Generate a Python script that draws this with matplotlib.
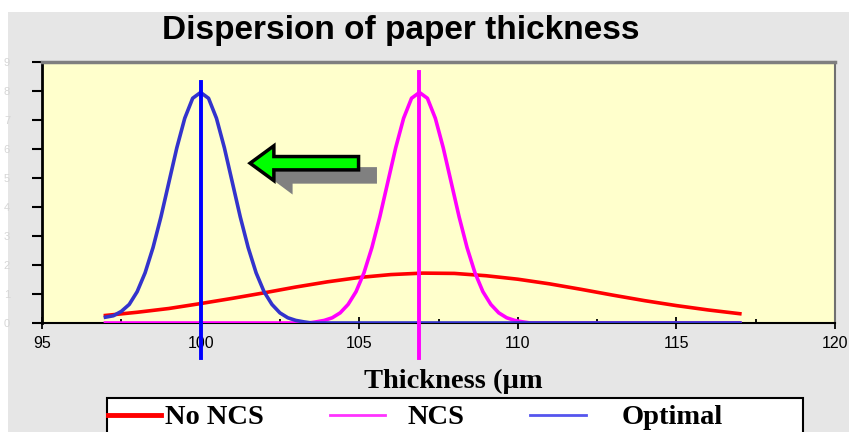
import matplotlib
matplotlib.use("Agg")
import matplotlib.pyplot as plt
from matplotlib.patches import Rectangle, FancyArrow
from matplotlib.lines import Line2D

# values
no_ncs_x = [97, 98, 99, 100, 101, 102, 103, 104, 105, 106, 107,
            108, 109, 110, 111, 112, 113, 114, 115, 116, 117]
no_ncs_y = [0.26, 0.37, 0.50, 0.67, 0.85, 1.04, 1.24, 1.42, 1.57, 1.67, 1.72,
            1.71, 1.63, 1.51, 1.35, 1.16, 0.96, 0.77, 0.60, 0.45, 0.32]

ncs_x = [97, 103.4, 103.65, 103.9, 104.15, 104.4, 104.65, 104.9, 105.15, 105.4, 105.65,
         105.9, 106.15, 106.4, 106.65, 106.9, 107.15, 107.4, 107.65, 107.9, 108.15,
         108.4, 108.65, 108.9, 109.15, 109.4, 109.65, 109.9, 110.15, 110.4, 117]
ncs_y = [0.0, 0.0, 0.04, 0.09, 0.18, 0.35, 0.64, 1.08, 1.73, 2.60, 3.66,
         4.85, 6.04, 7.06, 7.75, 7.95, 7.75, 7.06, 6.04, 4.85, 3.66,
         2.60, 1.73, 1.08, 0.64, 0.35, 0.18, 0.09, 0.04, 0.0, 0.0]

optimal_x = [97, 97.25, 97.5, 97.75, 98, 98.25, 98.5, 98.75, 99, 99.25, 99.5,
             99.75, 100, 100.25, 100.5, 100.75, 101, 101.25, 101.5, 101.75, 102,
             102.25, 102.5, 102.75, 103, 103.25, 103.5, 117]
optimal_y = [0.20, 0.25, 0.40, 0.64, 1.08, 1.73, 2.60, 3.66, 4.85, 6.04, 7.06,
             7.75, 7.95, 7.75, 7.06, 6.04, 4.85, 3.66, 2.60, 1.73, 1.08,
             0.64, 0.35, 0.18, 0.09, 0.04, 0.0, 0.0]

# target lines (x position, top, bottom)
target_x = [100, 106.9]
target_top = [8.3, 8.65]
target_bottom = -1.2

x_ticks = [95, 100, 105, 110, 115, 120]
y_ticks = list(range(10))

sans = "Liberation Sans"
serif = "Liberation Serif"

fig = plt.figure(figsize=(8.49, 4.32), dpi=100, facecolor="white")
fig.add_artist(Rectangle((8 / 849, 0), 1, (432 - 12) / 432, transform=fig.transFigure,
                         facecolor="#e6e6e6", edgecolor="none", zorder=-5))

ax = fig.add_axes([42 / 849, (432 - 323) / 432, 793 / 849, 261 / 432])
ax.set_facecolor("#ffffcc")

ax.plot(no_ncs_x, no_ncs_y, color="#ff0000", lw=2.6, zorder=3)
ax.plot(ncs_x, ncs_y, color="#ff00ff", lw=2.6, zorder=4)
ax.plot(optimal_x, optimal_y, color="#3333cc", lw=2.6, zorder=5)

for x, top, col in zip(target_x, target_top, ["#0000ff", "#ff00ff"]):
    ax.plot([x, x], [target_bottom, top], color=col, lw=2.8, clip_on=False, zorder=6)

# shift arrow with its shadow
shadow = FancyArrow(105.03 + 0.53, 5.51 - 0.42, -3.47, 0, width=0.57, head_width=1.32,
                    head_length=0.81, length_includes_head=True,
                    facecolor="#808080", edgecolor="none", zorder=6)
arrow = FancyArrow(104.98, 5.51, -3.42, 0, width=0.46, head_width=1.2,
                   head_length=0.75, length_includes_head=True,
                   facecolor="#00ff00", edgecolor="black", lw=2.5,
                   joinstyle="miter", zorder=7)
ax.add_patch(shadow)
ax.add_patch(arrow)

ax.set_xlim(95, 120)
ax.set_ylim(0, 9)
ax.set_xticks(x_ticks)
ax.set_xticks([97.5, 102.5, 107.5, 112.5, 117.5], minor=True)
ax.set_yticks(y_ticks)
ax.set_xticklabels([str(t) for t in x_ticks], fontfamily=sans, fontsize=11.5)
ax.set_yticklabels([str(t) for t in y_ticks], fontfamily=sans, fontsize=8, color="#d6d6d6")
ax.tick_params(axis="x", which="major", direction="inout", length=8, width=1.3, pad=5)
ax.tick_params(axis="x", which="minor", direction="in", length=3, width=1.3)
ax.tick_params(axis="y", direction="out", length=7, width=1.5, pad=16)

ax.spines["left"].set_linewidth(2)
ax.spines["bottom"].set_linewidth(1.5)
ax.spines["top"].set_color("#7f7f7f")
ax.spines["top"].set_linewidth(2.5)
ax.spines["right"].set_color("#707070")
ax.spines["right"].set_linewidth(1.5)

fig.text(401 / 849, (432 - 30) / 432, "Dispersion of paper thickness", fontfamily=sans,
         fontweight="bold", fontsize=24, ha="center", va="center")
fig.text(453 / 849, (432 - 381) / 432, "Thickness (\u00b5m", fontfamily=serif,
         fontweight="bold", fontsize=20.5, ha="center", va="center")

# legend box, cut by the bottom edge as in the reference
fig.add_artist(Rectangle((107 / 849, -0.05), 696 / 849, 0.05 + (432 - 398) / 432,
                         transform=fig.transFigure, facecolor="white",
                         edgecolor="black", lw=1.5, zorder=2))
legend_items = [("No NCS", "#ff0000", 3.5, 108, 161, 165),
                ("NCS", "#ff33ff", 2.0, 330, 385, 408),
                ("Optimal", "#5555ee", 2.0, 530, 586, 622)]
for label, col, lw, x0, x1, xt in legend_items:
    ly = (432 - 415) / 432
    fig.add_artist(Line2D([x0 / 849, x1 / 849], [ly, ly], color=col, lw=lw,
                          transform=fig.transFigure, zorder=3))
    fig.text(xt / 849, (432 - 424.5) / 432, label, fontfamily=serif, fontweight="bold",
             fontsize=20.5, ha="left", va="baseline", zorder=3)

fig.savefig("out.png", dpi=100, facecolor=fig.get_facecolor())
